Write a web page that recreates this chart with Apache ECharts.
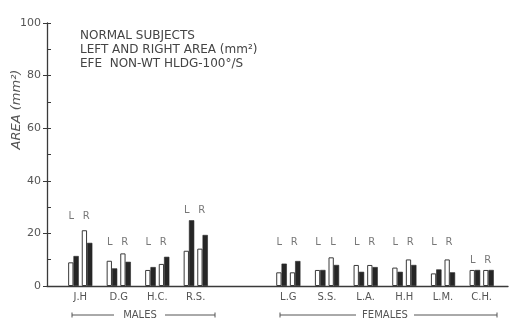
<!DOCTYPE html>
<html><head><meta charset="utf-8">
<script src="https://cdn.jsdelivr.net/npm/echarts@6/dist/echarts.min.js"></script>
<style>html,body{margin:0;background:#fff}#c{width:512px;height:327px}</style>
</head><body><div id="c"></div>
<script>
// ---- data ----
const malesCats = ['J.H', 'D.G', 'H.C.', 'R.S.'];
const femalesCats = ['L.G', 'S.S.', 'L.A.', 'H.H', 'L.M.', 'C.H.'];

const malesLeftWhite  = [9.0, 9.6, 6.1, 13.4];
const malesLeftBlack  = [11.4, 6.7, 7.2, 25.0];
const malesRightWhite = [21.2, 12.4, 8.4, 14.2];
const malesRightBlack = [16.4, 9.2, 11.1, 19.4];

const femalesLeftWhite  = [5.2, 6.1, 8.0, 7.0, 4.8, 6.1];
const femalesLeftBlack  = [8.5, 6.1, 5.4, 5.4, 6.3, 6.1];
const femalesRightWhite = [5.2, 10.9, 8.0, 10.1, 10.1, 6.1];
const femalesRightBlack = [9.5, 8.0, 7.2, 8.0, 5.2, 6.1];

// L / R annotation letters and their heights (in mm²)
const malesLeftText = ['L', 'L', 'L', 'L'];
const malesRightText = ['R', 'R', 'R', 'R'];
const malesLabelHeight = [26.6, 16.7, 16.7, 28.9];
const femalesLeftText = ['L', 'L', 'L', 'L', 'L', 'L'];
const femalesRightText = ['R', 'L', 'R', 'R', 'R', 'R'];
const femalesLabelHeight = [16.7, 16.7, 16.7, 16.7, 16.7, 9.9];

const yTickValues = [0, 20, 40, 60, 80, 100];

// ---- styles ----
const INK = '#3a3a3a';
const TXT = '#555';
const FONT = 'DejaVu Sans';
const BW = 5.3;

function groupSeries(gi, lw, lb, rw, rb, lText, rText, labH) {
  const white = { color: '#fff', borderColor: INK, borderWidth: 1 };
  const black = { color: '#262626', borderColor: '#262626', borderWidth: 0.6 };
  const base = { type: 'bar', xAxisIndex: gi, yAxisIndex: gi, barWidth: BW, barGap: '0%', silent: true };
  const lab = (txt, dx) => ({
    type: 'scatter', xAxisIndex: gi, yAxisIndex: gi, data: labH, symbolSize: 0.1,
    itemStyle: { color: 'transparent' }, silent: true, z: 5,
    label: { show: true, position: 'inside', offset: [dx, 0], formatter: p => txt[p.dataIndex],
      fontFamily: FONT, fontSize: 10, color: TXT }
  });
  return [
    Object.assign({}, base, { data: lw, itemStyle: white }),
    Object.assign({}, base, { data: lb, itemStyle: black }),
    Object.assign({}, base, { data: [], barWidth: 3 }),
    Object.assign({}, base, { data: rw, itemStyle: white }),
    Object.assign({}, base, { data: rb, itemStyle: black }),
    lab(lText, -9), lab(rText, 6)
  ];
}

const catAxis = (gi, cats) => ({
  type: 'category', gridIndex: gi, data: cats,
  axisLine: { show: false }, axisTick: { show: false },
  axisLabel: { margin: 6, fontFamily: FONT, fontSize: 10, color: TXT }
});
const hiddenY = gi => ({ type: 'value', gridIndex: gi, min: 0, max: 100, show: false });

const chart = echarts.init(document.getElementById('c'), null, { renderer: 'canvas' });
chart.setOption({
  animation: false,
  backgroundColor: '#fff',
  title: {
    text: 'NORMAL SUBJECTS\nLEFT AND RIGHT AREA (mm²)\nEFE  NON-WT HLDG-100°/S',
    left: 75, top: 24,
    textStyle: { fontFamily: FONT, fontSize: 12, fontWeight: 'normal', color: '#444', lineHeight: 14 }
  },
  grid: [
    { left: 47, top: 23, width: 461, height: 263, outerBoundsMode: 'none', containLabel: false },
    { left: 61, top: 23, width: 154, height: 263, outerBoundsMode: 'none', containLabel: false },
    { left: 269, top: 23, width: 232, height: 263, outerBoundsMode: 'none', containLabel: false }
  ],
  xAxis: [
    { type: 'value', gridIndex: 0, min: 0, max: 1,
      axisLine: { show: true, lineStyle: { color: INK, width: 1.3 } },
      axisTick: { show: false }, axisLabel: { show: false }, splitLine: { show: false } },
    catAxis(1, malesCats),
    catAxis(2, femalesCats)
  ],
  yAxis: [
    { type: 'value', gridIndex: 0, position: 'left', min: 0, max: 100, interval: 20,
      axisLine: { show: true, lineStyle: { color: INK, width: 1.3 } },
      axisTick: { show: true, length: 4, lineStyle: { color: INK } },
      axisLabel: { margin: 6, fontFamily: FONT, fontSize: 11, color: TXT,
        formatter: v => yTickValues.includes(v) ? String(v) : '' },
      splitLine: { show: false },
      name: 'AREA (mm²)', nameLocation: 'middle', nameRotate: 90, nameGap: 24, nameMoveOverlap: false,
      nameTextStyle: { fontFamily: FONT, fontSize: 13, fontStyle: 'italic', color: TXT, padding: [0, 0, 0, 90] } },
    hiddenY(1),
    hiddenY(2),
    { type: 'value', gridIndex: 0, position: 'left', min: 0, max: 100, interval: 10,
      axisLine: { show: false }, axisLabel: { show: false }, splitLine: { show: false },
      axisTick: { show: true, inside: true, length: 4, lineStyle: { color: INK } } }
  ],
  graphic: [
    { type: 'line', shape: { x1: 72, y1: 315, x2: 114, y2: 315 }, style: { stroke: TXT, lineWidth: 1 } },
    { type: 'line', shape: { x1: 72, y1: 312.5, x2: 72, y2: 317.5 }, style: { stroke: TXT, lineWidth: 1 } },
    { type: 'line', shape: { x1: 165, y1: 315, x2: 215, y2: 315 }, style: { stroke: TXT, lineWidth: 1 } },
    { type: 'line', shape: { x1: 215, y1: 312.5, x2: 215, y2: 317.5 }, style: { stroke: TXT, lineWidth: 1 } },
    { type: 'text', x: 140, y: 315, style: { text: 'MALES', fontFamily: FONT, fontSize: 10, fill: TXT, align: 'center', verticalAlign: 'middle' } },
    { type: 'line', shape: { x1: 280, y1: 315, x2: 356, y2: 315 }, style: { stroke: TXT, lineWidth: 1 } },
    { type: 'line', shape: { x1: 280, y1: 312.5, x2: 280, y2: 317.5 }, style: { stroke: TXT, lineWidth: 1 } },
    { type: 'line', shape: { x1: 414, y1: 315, x2: 497, y2: 315 }, style: { stroke: TXT, lineWidth: 1 } },
    { type: 'line', shape: { x1: 497, y1: 312.5, x2: 497, y2: 317.5 }, style: { stroke: TXT, lineWidth: 1 } },
    { type: 'text', x: 385, y: 315, style: { text: 'FEMALES', fontFamily: FONT, fontSize: 10, fill: TXT, align: 'center', verticalAlign: 'middle' } }
  ],
  series: [].concat(
    groupSeries(1, malesLeftWhite, malesLeftBlack, malesRightWhite, malesRightBlack, malesLeftText, malesRightText, malesLabelHeight),
    groupSeries(2, femalesLeftWhite, femalesLeftBlack, femalesRightWhite, femalesRightBlack, femalesLeftText, femalesRightText, femalesLabelHeight)
  )
});
</script></body></html>
